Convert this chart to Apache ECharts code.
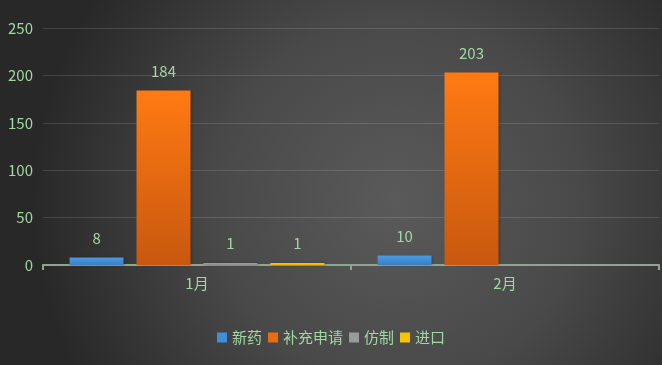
<!DOCTYPE html>
<html><head><meta charset="utf-8">
<script src="https://cdn.jsdelivr.net/npm/echarts@6/dist/echarts.min.js"></script>
<style>html,body{margin:0;padding:0;background:#333;}#c{width:662px;height:365px;}</style>
</head><body><div id="c"></div>
<script>
var categories = ['1月', '2月'];
var seriesNames = ['新药', '补充申请', '仿制', '进口'];
var xinyao = [8, 10];
var buchong = [184, 203];
var fangzhi = [1, null];
var jinkou = [1, null];
var yTicks = {min: 0, max: 250, interval: 50};

var txt = '#a2d8a2';
var font = '"Noto Sans CJK SC", "Noto Sans", sans-serif';
function grad(top, bottom) {
  return {type: 'linear', x: 0, y: 0, x2: 0, y2: 1,
    colorStops: [{offset: 0, color: top}, {offset: 1, color: bottom}]};
}
var colors = [grad('#4c9be2', '#3a7fc2'), grad('#ff7a12', '#c8580f'), grad('#a0a0a0', '#8a8a8a'), grad('#ffcc00', '#e6b400')];
var legendColors = ['#3f8ed6', '#ec6a10', '#9a9a9a', '#f5c400'];
var data = [xinyao, buchong, fangzhi, jinkou];

var chart = echarts.init(document.getElementById('c'), null, {renderer: 'canvas'});
chart.setOption({
  backgroundColor: {type: 'radial', x: 0.6, y: 0.55, r: 1.0,
    colorStops: [{offset: 0, color: '#5a5a5a'}, {offset: 0.5, color: '#494949'}, {offset: 1, color: '#282828'}]},
  textStyle: {fontFamily: font},
  grid: {left: 43, right: 3, top: 28, bottom: 100, containLabel: false},
  legend: {
    bottom: 15, left: 'center', itemWidth: 10, itemHeight: 10, itemGap: 6,
    icon: 'rect',
    textStyle: {color: txt, fontSize: 15, fontFamily: font},
    data: seriesNames.map(function (n, i) { return {name: n, itemStyle: {color: legendColors[i]}}; })
  },
  xAxis: {
    type: 'category', data: categories,
    axisLine: {lineStyle: {color: '#8ea58e', width: 2}},
    axisTick: {show: true, length: 5, lineStyle: {color: '#8ea58e', width: 2}},
    axisLabel: {color: txt, fontSize: 15, margin: 11, fontFamily: font}
  },
  yAxis: {
    type: 'value', min: yTicks.min, max: yTicks.max, interval: yTicks.interval,
    axisLine: {show: false}, axisTick: {show: false},
    axisLabel: {color: txt, fontSize: 15, margin: 10, fontFamily: font},
    splitLine: {lineStyle: {color: 'rgba(255,255,255,0.13)', width: 1}}
  },
  series: seriesNames.map(function (n, i) {
    return {
      name: n, type: 'bar', data: data[i],
      barWidth: 54, barGap: '24%', barMinHeight: 2,
      itemStyle: {color: colors[i], shadowColor: 'rgba(0,0,0,0.3)', shadowBlur: 3, shadowOffsetX: 1},
      label: {show: true, position: 'top', distance: 12, color: txt, fontSize: 15, fontFamily: font}
    };
  })
});
</script></body></html>
